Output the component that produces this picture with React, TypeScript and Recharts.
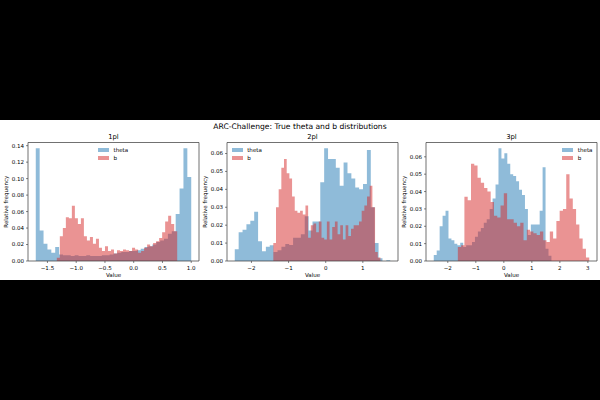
import React from "react";
import { ComposedChart, Area, XAxis, YAxis, Legend, ReferenceArea, Label } from "recharts";

const FONT = "'DejaVu Sans', sans-serif";
const SUPTITLE = "ARC-Challenge: True theta and b distributions";
const SERIES = ["theta", "b"];
const FILLS: Record<string, string> = { theta: "#1f77b4", b: "#d62728" };

// 1pl
const theta1Range = [-1.703, 1.0];
const theta1 = [
  0.137, 0.037, 0.021, 0.014, 0.01, 0.017, 0.008, 0.007, 0.007, 0.006,
  0.007, 0.006, 0.006, 0.007, 0.006, 0.006, 0.006, 0.007, 0.007, 0.008,
  0.009, 0.01, 0.011, 0.011, 0.012, 0.012, 0.013, 0.015, 0.017, 0.018,
  0.02, 0.023, 0.025, 0.027, 0.033, 0.036, 0.057, 0.088, 0.137, 0.102,
];
const b1Range = [-1.337, 0.756];
const b1 = [
  0.004, 0.03, 0.04, 0.053, 0.052, 0.067, 0.052, 0.045, 0.052, 0.03,
  0.025, 0.029, 0.021, 0.027, 0.016, 0.012, 0.018, 0.012, 0.014, 0.009,
  0.013, 0.012, 0.014, 0.013, 0.012, 0.016, 0.014, 0.01, 0.012, 0.016,
  0.02, 0.018, 0.022, 0.024, 0.028, 0.035, 0.048, 0.055, 0.045, 0.036,
];
const x1Ticks = [-1.5, -1.0, -0.5, 0.0, 0.5, 1.0];
const y1Ticks = [0, 0.02, 0.04, 0.06, 0.08, 0.1, 0.12, 0.14];

// 2pl
const theta2Range = [-2.449, 1.737];
const theta2 = [
  0.0065, 0.016, 0.0175, 0.0205, 0.0225, 0.0275, 0.011, 0.0055, 0.008, 0.0088,
  0.005, 0.006, 0.008, 0.0095, 0.009, 0.013, 0.013, 0.015, 0.025, 0.017,
  0.022, 0.022, 0.044, 0.063, 0.057, 0.057, 0.052, 0.042, 0.055, 0.049,
  0.046, 0.041, 0.04, 0.043, 0.062, 0.03, 0.01, 0.0015, 0, 0.0004,
];
const b2Range = [-1.411, 1.473];
const b2 = [
  0.01, 0.03, 0.04, 0.052, 0.057, 0.049, 0.046, 0.036, 0.028, 0.027,
  0.028, 0.026, 0.031, 0.013, 0.02, 0.021, 0.016, 0.022, 0.013, 0.012,
  0.022, 0.012, 0.019, 0.022, 0.015, 0.02, 0.012, 0.02, 0.014, 0.018,
  0.02, 0.02, 0.022, 0.028, 0.031, 0.036, 0.042, 0.03, 0.005, 0.002,
];
const x2Ticks = [-2, -1, 0, 1];
const y2Ticks = [0, 0.01, 0.02, 0.03, 0.04, 0.05, 0.06];

// 3pl
const theta3Range = [-2.501, 1.699];
const theta3 = [
  0.0035, 0.006, 0.02, 0.026, 0.029, 0.013, 0.012, 0.01, 0.009, 0.0105,
  0.008, 0.009, 0.009, 0.011, 0.014, 0.017, 0.019, 0.022, 0.024, 0.03,
  0.036, 0.044, 0.065, 0.059, 0.062, 0.056, 0.05, 0.049, 0.046, 0.041,
  0.038, 0.03, 0.015, 0.021, 0.021, 0.021, 0.029, 0.054, 0.007, 0.003,
];
const b3Range = [-1.642, 3.048];
const b3 = [
  0.008, 0.009, 0.037, 0.035, 0.056, 0.055, 0.048, 0.045, 0.042, 0.04,
  0.034, 0.026, 0.025, 0.032, 0.039, 0.024, 0.024, 0.022, 0.02, 0.022,
  0.012, 0.018, 0.017, 0.016, 0.015, 0.017, 0.012, 0.011, 0.017, 0.013,
  0.023, 0.029, 0.03, 0.05, 0.036, 0.03, 0.021, 0.013, 0.007, 0.002,
];
const x3Ticks = [-2, -1, 0, 1, 2, 3];
const y3Ticks = [0, 0.01, 0.02, 0.03, 0.04, 0.05, 0.06];

type Hist = { key: string; range: number[]; values: number[] };

// merge bin edges of both histograms into one table for step areas
function histRows(hists: Hist[]) {
  const edges: number[] = [];
  hists.forEach((h) => {
    const n = h.values.length;
    const w = (h.range[1] - h.range[0]) / n;
    for (let i = 0; i <= n; i++) edges.push(h.range[0] + i * w);
  });
  edges.sort((a, b) => a - b);
  return edges.map((x) => {
    const row: Record<string, number> = { x };
    hists.forEach((h) => {
      const n = h.values.length;
      const w = (h.range[1] - h.range[0]) / n;
      const i = Math.floor((x - h.range[0]) / w + 1e-6);
      row[h.key] = i >= 0 && i < n ? h.values[i] : 0;
    });
    return row;
  });
}

const minus = (s: string) => s.replace("-", "\u2212");

const LegendBox = () => (
  <div style={{ fontFamily: FONT, fontSize: 5.56, color: "#000" }}>
    {SERIES.map((k) => (
      <div key={k} style={{ display: "flex", alignItems: "center", height: 8.5 }}>
        <span style={{ width: 11, height: 4, background: FILLS[k], opacity: 0.5, marginRight: 4.5 }} />
        <span>{k}</span>
      </div>
    ))}
  </div>
);

const YLabel = ({ viewBox }: any) => {
  const cx = viewBox.x + 6;
  const cy = viewBox.y + viewBox.height / 2;
  return (
    <text x={cx} y={cy} transform={`rotate(-90 ${cx} ${cy})`} textAnchor="middle"
      dominantBaseline="central" fontSize={5.56} fontFamily={FONT} fill="#000">
      Relative frequency
    </text>
  );
};

const XLabel = ({ viewBox }: any) => (
  <text x={viewBox.x + viewBox.width / 2} y={viewBox.y + 13.6} textAnchor="middle"
    dominantBaseline="central" fontSize={5.56} fontFamily={FONT} fill="#000">
    Value
  </text>
);

interface PanelProps {
  title: string;
  theta: Hist;
  b: Hist;
  xTicks: number[];
  xFmt: (v: number) => string;
  yTicks: number[];
  left: number;
  legendLeft: number;
}

function Panel({ title, theta, b, xTicks, xFmt, yTicks, left, legendLeft }: PanelProps) {
  const rows = histRows([theta, b]);
  const lo = Math.min(theta.range[0], b.range[0]);
  const hi = Math.max(theta.range[1], b.range[1]);
  const pad = (hi - lo) * 0.05;
  const xDomain = [lo - pad, hi + pad];
  const yMax = Math.max(...theta.values, ...b.values) * 1.05;
  const tickStyle = { fontSize: 5.56, fontFamily: FONT, fill: "#000" };

  return (
    <div style={{ position: "absolute", left, top: 0 }}>
      <div style={{ position: "absolute", left: 28, width: 171, top: 12.5, textAlign: "center",
        fontFamily: FONT, fontSize: 6.8, lineHeight: "9px", color: "#000" }}>
        {title}
      </div>
      <ComposedChart width={201} height={160} data={rows}
        margin={{ top: 22.5, right: 2, bottom: 0, left: 0 }}>
        <XAxis dataKey="x" type="number" domain={xDomain} ticks={xTicks} allowDataOverflow
          tickFormatter={xFmt} tick={tickStyle} tickSize={2} tickMargin={3.5} height={19}
          axisLine={false} tickLine={{ stroke: "#333", strokeWidth: 0.6 }} interval={0}>
          <Label content={<XLabel />} />
        </XAxis>
        <YAxis type="number" domain={[0, yMax]} ticks={yTicks} allowDataOverflow width={28}
          tickFormatter={(v: number) => v.toFixed(2)} tick={tickStyle} tickSize={2} tickMargin={2}
          axisLine={false} tickLine={{ stroke: "#333", strokeWidth: 0.6 }} interval={0}>
          <Label content={<YLabel />} />
        </YAxis>
        <Area type="stepAfter" dataKey="theta" name="theta" fill={FILLS.theta} fillOpacity={0.5}
          stroke="none" dot={false} activeDot={false} isAnimationActive={false} />
        <Area type="stepAfter" dataKey="b" name="b" fill={FILLS.b} fillOpacity={0.5}
          stroke="none" dot={false} activeDot={false} isAnimationActive={false} />
        <ReferenceArea x1={xDomain[0]} x2={xDomain[1]} y1={0} y2={yMax} fill="none"
          fillOpacity={0} stroke="#333" strokeWidth={0.7} ifOverflow="visible" />
        <Legend layout="vertical" align="center" verticalAlign="middle" content={<LegendBox />}
          wrapperStyle={{ left: legendLeft, top: 25.25, width: "auto", height: "auto" }} />
      </ComposedChart>
    </div>
  );
}

export default function App() {
  return (
    <div style={{ position: "fixed", left: 0, top: 0, width: 600, height: 400, background: "#000" }}>
      <div style={{ position: "absolute", left: 0, top: 120, width: 600, height: 160, background: "#fff" }}>
        <div style={{ position: "absolute", left: 0, width: 600, top: 2, textAlign: "center",
          fontFamily: FONT, fontSize: 7.6, lineHeight: "10px", color: "#000" }}>
          {SUPTITLE}
        </div>
        <Panel title="1pl" left={0} legendLeft={98}
          theta={{ key: "theta", range: theta1Range, values: theta1 }}
          b={{ key: "b", range: b1Range, values: b1 }}
          xTicks={x1Ticks} xFmt={(v) => minus(v.toFixed(1))} yTicks={y1Ticks} />
        <Panel title="2pl" left={199} legendLeft={32.7}
          theta={{ key: "theta", range: theta2Range, values: theta2 }}
          b={{ key: "b", range: b2Range, values: b2 }}
          xTicks={x2Ticks} xFmt={(v) => minus(String(v))} yTicks={y2Ticks} />
        <Panel title="3pl" left={398} legendLeft={164.3}
          theta={{ key: "theta", range: theta3Range, values: theta3 }}
          b={{ key: "b", range: b3Range, values: b3 }}
          xTicks={x3Ticks} xFmt={(v) => minus(String(v))} yTicks={y3Ticks} />
      </div>
    </div>
  );
}
